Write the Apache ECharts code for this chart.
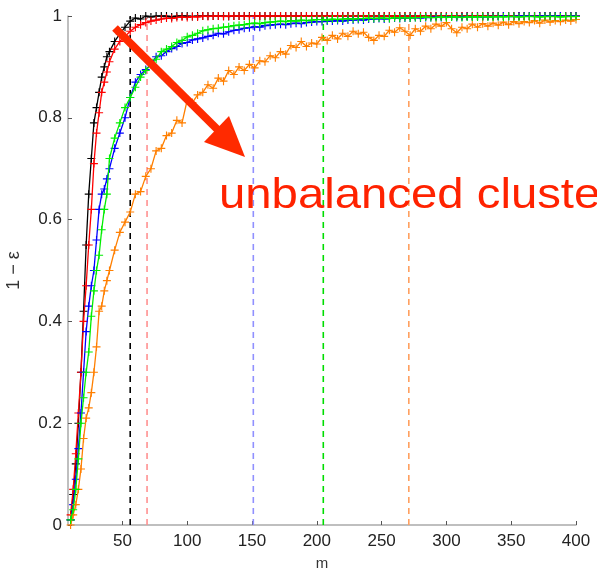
<!DOCTYPE html>
<html><head><meta charset="utf-8">
<script src="https://cdn.jsdelivr.net/npm/echarts@6/dist/echarts.min.js"></script>
<style>html,body{margin:0;padding:0;background:#fff}#c{width:597px;height:570px}</style>
</head><body><div id="c"></div>
<script>
var mValues = [10,12,14,16,18,20,22,24,26,28,30,32,34,36,38,40,
 44,48,52,56,60,64,68,72,76,80, 84,88,92,96,100,104,108,112,116,120,
 124,128,132,136,140,144,148,152,156,160, 164,168,172,176,180,184,188,192,196,200,
 204,208,212,216,220,224,228,232,236,240, 244,248,252,256,260,264,268,272,276,280,
 284,288,292,296,300,304,308,312,316,320, 324,328,332,336,340,344,348,352,356,360,
 364,368,372,376,380,384,388,392,396,400];

var blackValues = [0.01,0.06,0.12,0.2,0.3,0.42,0.55,0.65,0.72,0.79,0.82,0.85,0.88,0.9,0.92,0.93,
 0.95,0.965,0.978,0.99,0.996,0.994,1,0.998,1,1,
 1,0.998,1,1,1,0.999,1,1,1,1,
 1,1,0.999,1,1,1,1,1,1,1,
 1,1,1,1,1,1,1,1,1,1, 1,1,1,1,1,1,1,1,1,1, 1,1,1,1,1,1,1,1,1,1,
 1,1,1,1,1,1,1,1,1,1, 1,1,1,1,1,1,1,1,1,1, 1,1,1,1,1,1,1,1,1,1];

var redValues = [0.02,0.07,0.14,0.22,0.3,0.4,0.47,0.55,0.62,0.71,0.77,0.81,0.85,0.87,0.89,0.91,
 0.935,0.95,0.96,0.97,0.978,0.983,0.987,0.99,0.992,0.994,
 0.996,0.995,0.997,0.998,0.997,0.999,0.998,1,0.999,1,
 1,0.999,1,1,1,1,0.999,1,1,1,
 1,1,1,1,1,1,1,1,1,1, 1,1,1,1,1,1,1,1,1,1, 1,1,1,1,1,1,1,1,1,1,
 1,1,1,1,1,1,1,1,1,1, 1,1,1,1,1,1,1,1,1,1, 1,1,1,1,1,1,1,1,1,1];

var blueValues = [0.01,0.04,0.09,0.15,0.22,0.3,0.38,0.43,0.47,0.5,0.56,0.62,0.65,0.66,0.68,0.7,
 0.74,0.77,0.8,0.84,0.87,0.885,0.895,0.905,0.92,0.922,
 0.93,0.936,0.94,0.946,0.948,0.953,0.955,0.957,0.96,0.962,
 0.966,0.965,0.969,0.972,0.973,0.976,0.977,0.979,0.978,0.981,
 0.982,0.983,0.984,0.983,0.985,0.986,0.985,0.987,0.988,0.989,
 0.989,0.99,0.99,0.991,0.99,0.992,0.992,0.993,0.992,0.994,
 0.994,0.995,0.994,0.995,0.996,0.995,0.996,0.996,0.997,0.996,
 0.997,0.997,0.998,0.997,0.998,0.998,0.997,0.998,0.999,0.998,
 0.999,0.998,0.999,0.999,0.999,1,0.999,0.999,1,1,
 1,0.999,1,1,1,1,1,0.999,1,1];

var greenValues = [0.01,0.03,0.07,0.13,0.2,0.25,0.3,0.34,0.41,0.46,0.5,0.53,0.58,0.62,0.65,0.72,
 0.76,0.79,0.82,0.84,0.86,0.88,0.893,0.905,0.915,0.93,
 0.935,0.94,0.948,0.952,0.959,0.962,0.966,0.971,0.973,0.975,
 0.976,0.978,0.979,0.981,0.982,0.983,0.985,0.986,0.985,0.987,
 0.988,0.989,0.99,0.989,0.991,0.99,0.992,0.991,0.992,0.993,
 0.993,0.992,0.994,0.993,0.994,0.995,0.994,0.995,0.995,0.996,
 0.995,0.996,0.996,0.995,0.997,0.996,0.997,0.996,0.997,0.997,
 0.998,0.997,0.997,0.998,0.997,0.998,0.998,0.997,0.998,0.998,
 0.998,0.999,0.998,0.998,0.999,0.998,0.999,0.999,0.998,0.999,
 0.999,0.999,0.998,0.999,0.999,0.999,0.998,0.999,0.999,0.999];

var orangeValues = [0.0,0.02,0.04,0.07,0.11,0.17,0.21,0.23,0.26,0.3,0.35,0.42,0.43,0.46,0.48,0.5,
 0.54,0.575,0.595,0.615,0.65,0.655,0.685,0.70,0.735,0.74,
 0.765,0.77,0.795,0.79,0.835,0.83,0.845,0.85,0.865,0.858,
 0.878,0.872,0.893,0.885,0.9,0.893,0.905,0.898,0.912,0.91,
 0.922,0.918,0.93,0.925,0.942,0.938,0.95,0.94,0.947,0.945,
 0.958,0.952,0.962,0.955,0.966,0.96,0.97,0.965,0.968,0.958,
 0.952,0.962,0.96,0.972,0.968,0.977,0.97,0.962,0.975,0.97,
 0.98,0.975,0.984,0.98,0.987,0.975,0.967,0.978,0.975,0.984,
 0.978,0.985,0.98,0.986,0.982,0.988,0.983,0.989,0.985,0.989,
 0.987,0.991,0.986,0.992,0.988,0.991,0.989,0.992,0.99,0.993];

var thresholds = [56, 69, 151, 205, 271];
var xTickValues = [50,100,150,200,250,300,350,400];
var yTickValues = [0,0.2,0.4,0.6,0.8,1];

var curveColors = {black:'#000000', red:'#ff0000', blue:'#0000ff', orange:'#ff7f00', green:'#00ee00'};
var dashColors = ['#000000','#ff9090','#9090ff','#00dd00','#ffa060'];

var plus = 'path://M4.3,0H5.7V4.3H10V5.7H5.7V10H4.3V5.7H0V4.3H4.3Z';

function pairs(vals){ return mValues.map(function(m,i){ return [m, vals[i]]; }); }

var series = [];
thresholds.forEach(function(t,i){
  series.push({type:'line', data:[[t,0],[t,1]], symbol:'none', silent:true, z:1,
    lineStyle:{color:dashColors[i], width:1.6, type:[6,5]}});
});
[['black',blackValues],['red',redValues],['blue',blueValues],['orange',orangeValues],['green',greenValues]].forEach(function(s,i){
  series.push({type:'line', data:pairs(s[1]), symbol:plus, symbolSize:8, showAllSymbol:true,
    z:3+i, lineStyle:{color:curveColors[s[0]], width:1.3},
    itemStyle:{color:curveColors[s[0]]}});
});

var chart = echarts.init(document.getElementById('c'), null, {renderer:'canvas'});
chart.setOption({
  animation:false,
  backgroundColor:'#fff',
  grid:{left:68, right:21, top:16, bottom:45, containLabel:false, outerBoundsMode:'none'},
  xAxis:{type:'value', min:8, max:400, name:'m', nameLocation:'middle', nameGap:31,
    nameTextStyle:{fontSize:15, color:'#333', fontFamily:'Liberation Sans'},
    axisLine:{lineStyle:{color:'#aaaaaa', width:1.5}},
    axisTick:{inside:true, length:4, customValues:xTickValues, lineStyle:{color:'#555'}},
    axisLabel:{customValues:xTickValues, fontSize:17, color:'#222', fontFamily:'Liberation Sans', margin:8},
    splitLine:{show:false}},
  yAxis:{type:'value', min:0, max:1,
    name:'1 \u2212 \u03b5', nameLocation:'middle', nameGap:45,
    nameTextStyle:{fontSize:18, color:'#333', fontFamily:'Liberation Sans'},
    axisLine:{show:true, lineStyle:{color:'#aaaaaa', width:1.5}},
    axisTick:{show:true, inside:true, length:4, customValues:yTickValues, lineStyle:{color:'#555'}},
    axisLabel:{customValues:yTickValues, fontSize:17, color:'#222', fontFamily:'Liberation Sans', margin:6},
    splitLine:{show:false}},
  series:series,
  graphic:[
    {type:'line', shape:{x1:115,y1:28,x2:222,y2:134}, style:{stroke:'#ff2a00', lineWidth:8}, z:100},
    {type:'polygon', shape:{points:[[245,157],[229,116],[204,142]]}, style:{fill:'#ff2a00'}, z:100},
    {type:'text', x:219, y:196, scaleX:1.1, style:{text:'unbalanced clusters', fill:'#ff2200', fontSize:43,
      fontFamily:'Liberation Sans', verticalAlign:'middle', align:'left'}, z:100}
  ]
});
</script>
</body></html>
